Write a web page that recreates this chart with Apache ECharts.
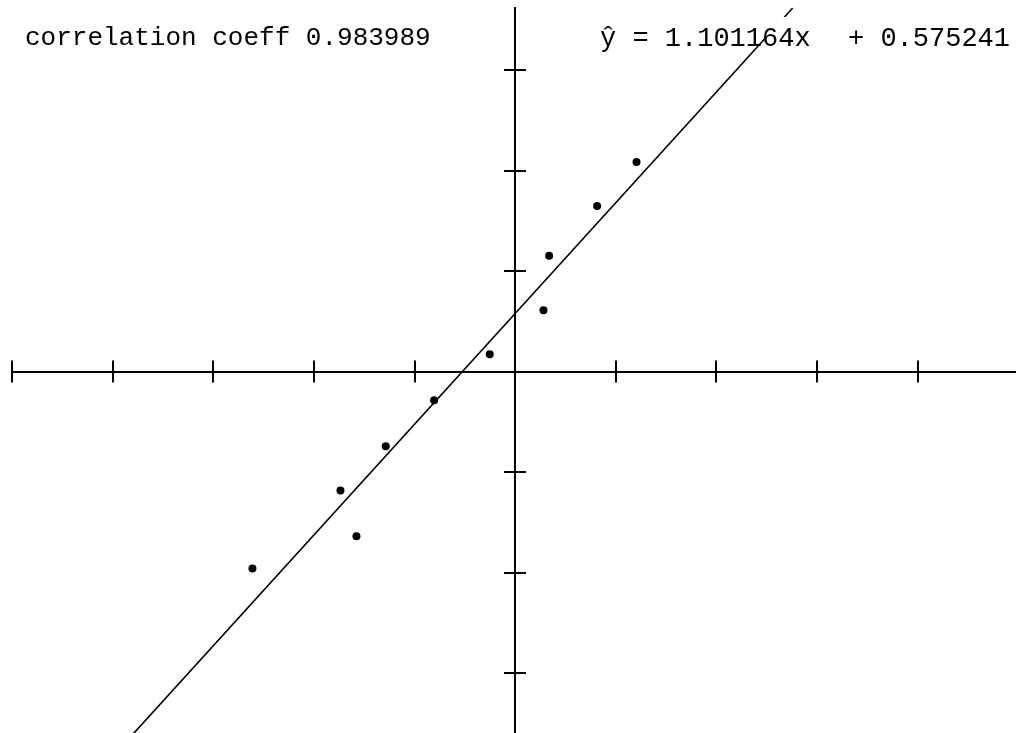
<!DOCTYPE html>
<html>
<head>
<meta charset="utf-8">
<style>
  html, body { margin: 0; padding: 0; background: #fff; }
  #main { width: 1016px; height: 733px; }
</style>
<script src="https://cdn.jsdelivr.net/npm/echarts@6/dist/echarts.min.js"></script>
</head>
<body>
<div id="main"></div>
<script>
// scatter sample
var xValues = [-2.61, -1.735, -1.576, -1.285, -0.804, -0.251, 0.283, 0.339, 0.816, 1.208];
var yValues = [-1.96, -1.184, -1.639, -0.743, -0.286, 0.172, 0.61, 1.15, 1.645, 2.083];

// fitted line and stats printed on the chart
var slope = 1.101164;
var intercept = 0.575241;
var corr = 0.983989;

var xTicks = [-5, -4, -3, -2, -1, 0, 1, 2, 3, 4, 5];
var yTicks = [-3, -2, -1, 0, 1, 2, 3];
var yLimit = 3.615;

var chart = echarts.init(document.getElementById('main'), null, { renderer: 'canvas' });

var points = xValues.map(function (x, i) {
  return [x, yValues[i]];
});
// regression line drawn across the whole y range
var fitLine = [-yLimit, yLimit].map(function (y) {
  return [(y - intercept) / slope, y];
});

var font = 'Liberation Mono, Courier New, monospace';
var lineStyle = { color: '#000', width: 2 };

function xAx(pos) {
  return {
    type: 'value', position: pos, min: xTicks[0], max: xTicks[xTicks.length - 1], interval: 1,
    axisLine: { show: true, onZero: true, onZeroAxisIndex: 0, lineStyle: lineStyle },
    axisTick: { show: true, length: 11, lineStyle: lineStyle },
    axisLabel: { show: false }, splitLine: { show: false }
  };
}
function yAx(pos) {
  return {
    type: 'value', position: pos, min: -yLimit, max: yLimit,
    axisLine: { show: true, onZero: true, onZeroAxisIndex: 0, lineStyle: lineStyle },
    axisTick: { show: true, length: 11, lineStyle: lineStyle, customValues: yTicks },
    axisLabel: { show: false }, splitLine: { show: false }
  };
}

function txt(size) {
  return { fontFamily: font, fontSize: size, fontWeight: 'normal', color: '#000', lineHeight: size };
}

var option = {
  backgroundColor: '#ffffff',
  animation: false,
  grid: { left: 12, right: -2, top: 8, bottom: -2, containLabel: false, outerBoundsMode: 'none' },
  title: [{
    text: 'correlation coeff ' + corr.toFixed(6),
    left: 23, top: 17, padding: [8, 2, -14, 2],
    textStyle: txt(26)
  }, {
    text: 'ŷ = ' + slope.toFixed(6) + 'x',
    left: 598, top: 17, padding: [8, 2, -14, 2],
    backgroundColor: '#fff',
    textStyle: txt(27)
  }, {
    text: '+ ' + intercept.toFixed(6),
    right: 4, top: 17, padding: [8, 2, -14, 2],
    backgroundColor: '#fff',
    textStyle: txt(27)
  }],
  xAxis: [xAx('bottom'), xAx('top')],
  yAxis: [yAx('left'), yAx('right')],
  series: [{
    type: 'line',
    data: fitLine,
    showSymbol: false,
    lineStyle: { color: '#000', width: 1.6 },
    silent: true
  }, {
    type: 'scatter',
    data: points,
    symbol: 'circle',
    symbolSize: 8,
    itemStyle: { color: '#000', opacity: 1 }
  }]
};

chart.setOption(option);
</script>
</body>
</html>
